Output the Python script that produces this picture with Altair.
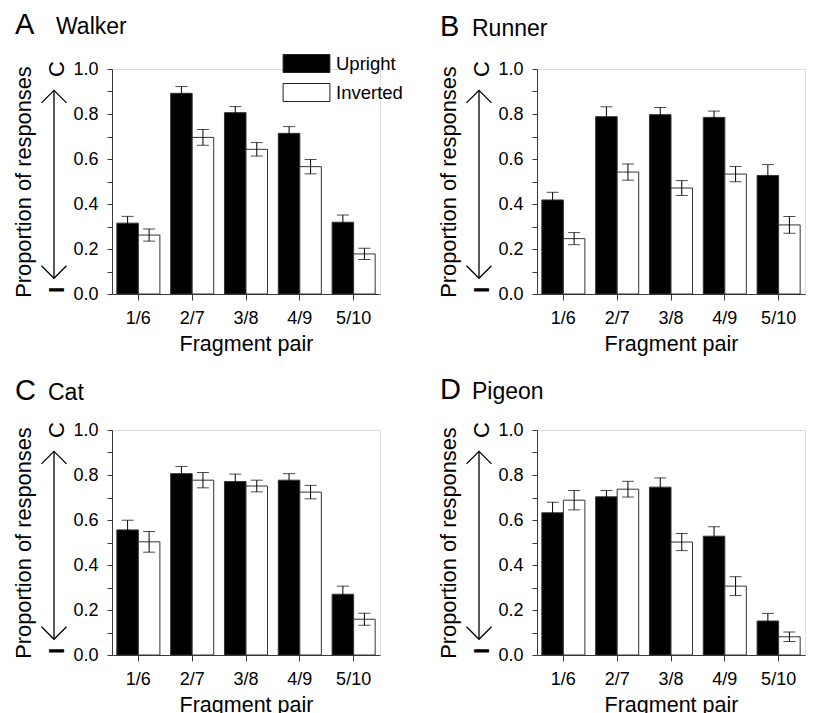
import altair as alt
import pandas as pd

FONT = "Liberation Sans"

categories = ["1/6", "2/7", "3/8", "4/9", "5/10"]
conditions = ["Upright", "Inverted"]

# Panel A: Walker
walker_upright = [0.315, 0.892, 0.806, 0.714, 0.319]
walker_upright_err = [0.030, 0.030, 0.027, 0.030, 0.032]
walker_inverted = [0.262, 0.696, 0.643, 0.566, 0.178]
walker_inverted_err = [0.027, 0.035, 0.030, 0.032, 0.025]

# Panel B: Runner
runner_upright = [0.418, 0.788, 0.797, 0.785, 0.527]
runner_upright_err = [0.034, 0.044, 0.032, 0.028, 0.048]
runner_inverted = [0.246, 0.542, 0.471, 0.533, 0.307]
runner_inverted_err = [0.027, 0.036, 0.033, 0.034, 0.037]

# Panel C: Cat
cat_upright = [0.556, 0.806, 0.771, 0.777, 0.270]
cat_upright_err = [0.043, 0.032, 0.033, 0.029, 0.036]
cat_inverted = [0.503, 0.777, 0.751, 0.724, 0.159]
cat_inverted_err = [0.046, 0.034, 0.026, 0.030, 0.027]

# Panel D: Pigeon
pigeon_upright = [0.632, 0.703, 0.746, 0.528, 0.151]
pigeon_upright_err = [0.047, 0.028, 0.041, 0.042, 0.034]
pigeon_inverted = [0.688, 0.737, 0.502, 0.306, 0.081]
pigeon_inverted_err = [0.043, 0.035, 0.038, 0.042, 0.021]

y_ticks = [0.0, 0.1, 0.2, 0.3, 0.4, 0.5, 0.6, 0.7, 0.8, 0.9, 1.0]
arrow_span = [0.07, 0.905]
top_label, top_value = "C", 1.0
bottom_label, bottom_value = "I", 0.018

W, H = 268, 225
AX = "#3a3a3a"
Y_TITLE = "Proportion of responses"


def panel(letter, name, up, up_err, inv, inv_err, name_dx, title_dy):
    rows = []
    for i, c in enumerate(categories):
        rows.append({"pair": c, "condition": "Upright", "value": up[i],
                     "lo": up[i] - up_err[i], "hi": up[i] + up_err[i]})
        rows.append({"pair": c, "condition": "Inverted", "value": inv[i],
                     "lo": inv[i] - inv_err[i], "hi": inv[i] + inv_err[i]})
    df = pd.DataFrame(rows)

    yscale = alt.Scale(domain=[0, 1], nice=False, zero=True)
    yaxis = alt.Axis(
        values=y_ticks,
        labelExpr="round(datum.value*10) % 2 == 0 ? format(datum.value, '.1f') : ''",
        tickSize=5, labelPadding=9, labelFontSize=18, labelFont=FONT,
        labelColor="black", titleFontSize=21.8, titleFont=FONT,
        titleFontWeight="normal", titleColor="black", titlePadding=37,
        domainColor=AX, tickColor=AX, grid=False, labelFlush=False,
        labelOverlap=False,
    )
    xenc = alt.X(
        "pair:N", sort=categories, title="Fragment pair",
        scale=alt.Scale(paddingInner=0.2, paddingOuter=0.09),
        axis=alt.Axis(labelAngle=0, tickSize=6, labelPadding=9,
                      labelFontSize=18, labelFont=FONT, labelColor="black",
                      titleFontSize=21.5, titleFont=FONT, titleFontWeight="normal",
                      titleColor="black", titlePadding=6, domainColor=AX,
                      tickColor=AX, grid=False),
    )
    xoff = alt.XOffset("condition:N", sort=conditions,
                       scale=alt.Scale(paddingInner=0, paddingOuter=0))
    base = alt.Chart(df)

    bars = base.mark_bar(stroke="#333", strokeWidth=1).encode(
        x=xenc, xOffset=xoff,
        y=alt.Y("value:Q", scale=yscale, axis=yaxis, title=Y_TITLE),
        fill=alt.Fill(
            "condition:N", sort=conditions,
            scale=alt.Scale(domain=conditions, range=["black", "white"]),
            legend=alt.Legend(
                title=None, orient="none", legendX=185, legendY=-15,
                symbolType="M-2.6,-1H2.6V1H-2.6Z", symbolSize=324,
                symbolStrokeColor="#222", symbolStrokeWidth=1,
                labelFontSize=18.5, labelFont=FONT, labelColor="black",
                labelOffset=20, rowPadding=6, padding=0,
            ),
        ),
    )
    rule = base.mark_rule(color="black", strokeWidth=1).encode(
        x=xenc, xOffset=xoff,
        y=alt.Y("lo:Q", scale=yscale, axis=yaxis, title=Y_TITLE), y2="hi:Q",
    )
    cap_lo = base.mark_tick(color="black", thickness=1, size=12).encode(
        x=xenc, xOffset=xoff,
        y=alt.Y("lo:Q", scale=yscale, axis=yaxis, title=Y_TITLE),
    )
    cap_hi = base.mark_tick(color="black", thickness=1, size=12).encode(
        x=xenc, xOffset=xoff,
        y=alt.Y("hi:Q", scale=yscale, axis=yaxis, title=Y_TITLE),
    )

    adf = pd.DataFrame({"y0": [arrow_span[0]], "y1": [arrow_span[1]]})
    arrow = alt.Chart(adf).mark_rule(color="black", strokeWidth=1.3).encode(
        x=alt.value(-58),
        y=alt.Y("y0:Q", scale=yscale, axis=yaxis, title=Y_TITLE), y2="y1:Q",
    )
    head_up = alt.Chart(adf).mark_point(
        shape="M-1,1L0,0L1,1", filled=False, stroke="black",
        strokeWidth=1.3, size=625, opacity=1,
    ).encode(x=alt.value(-58),
             y=alt.Y("y1:Q", scale=yscale, axis=yaxis, title=Y_TITLE))
    head_dn = alt.Chart(adf).mark_point(
        shape="M-1,-1L0,0L1,-1", filled=False, stroke="black",
        strokeWidth=1.3, size=625, opacity=1,
    ).encode(x=alt.value(-58),
             y=alt.Y("y0:Q", scale=yscale, axis=yaxis, title=Y_TITLE))

    cdf = pd.DataFrame({"lab": [top_label], "v": [top_value]})
    idf = pd.DataFrame({"lab": [bottom_label], "v": [bottom_value]})
    end_c = alt.Chart(cdf).mark_text(
        angle=270, align="center", baseline="middle", fontSize=22,
        font=FONT, color="black",
    ).encode(x=alt.value(-55),
             y=alt.Y("v:Q", scale=yscale, axis=yaxis, title=Y_TITLE),
             text="lab:N")
    end_i = alt.Chart(idf).mark_text(
        angle=270, align="center", baseline="middle", fontSize=22,
        fontWeight="bold", font=FONT, color="black",
    ).encode(x=alt.value(-55),
             y=alt.Y("v:Q", scale=yscale, axis=yaxis, title=Y_TITLE),
             text="lab:N")

    tdf = pd.DataFrame({"letter": [letter], "name": [name]})
    t_letter = alt.Chart(tdf).mark_text(
        align="left", baseline="alphabetic", fontSize=29, font=FONT,
        color="black",
    ).encode(x=alt.value(-97), y=alt.value(title_dy), text="letter:N")
    t_name = alt.Chart(tdf).mark_text(
        align="left", baseline="alphabetic", fontSize=23, font=FONT,
        color="black",
    ).encode(x=alt.value(name_dx), y=alt.value(title_dy), text="name:N")

    return alt.layer(bars, rule, cap_lo, cap_hi, arrow, head_up, head_dn,
                     end_c, end_i, t_letter, t_name).properties(width=W, height=H)


pA = panel("A", "Walker", walker_upright, walker_upright_err,
           walker_inverted, walker_inverted_err, -56, -35)
pB = panel("B", "Runner", runner_upright, runner_upright_err,
           runner_inverted, runner_inverted_err, -65, -33)
pC = panel("C", "Cat", cat_upright, cat_upright_err,
           cat_inverted, cat_inverted_err, -64, -30)
pD = panel("D", "Pigeon", pigeon_upright, pigeon_upright_err,
           pigeon_inverted, pigeon_inverted_err, -65, -31)

chart = alt.vconcat(
    alt.hconcat(pA, pB, spacing=57),
    alt.hconcat(pC, pD, spacing=57),
    spacing=20,
).properties(
    padding={"left": 5, "top": 2, "right": 5, "bottom": 5}
).configure_view(stroke=None).configure(font=FONT, background="white")

chart.save("out.html", embed_options={"renderer": "svg", "actions": False})
